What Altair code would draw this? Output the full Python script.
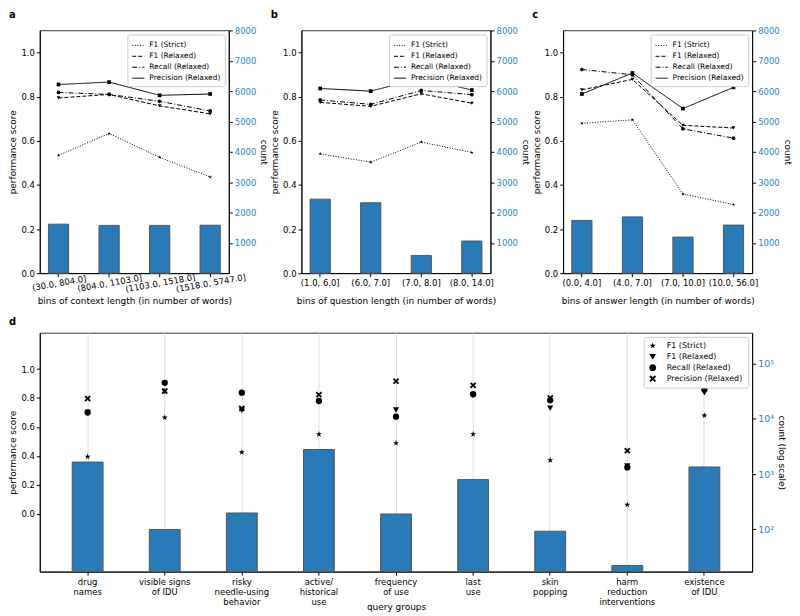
import altair as alt
import pandas as pd

METRICS = ["F1 (Strict)", "F1 (Relaxed)", "Recall (Relaxed)", "Precision (Relaxed)"]

# ---- panel a: context length bins
ctx_bins = ["(30.0, 804.0]", "(804.0, 1103.0]", "(1103.0, 1518.0]", "(1518.0, 5747.0]"]
ctx_count = [1615, 1575, 1575, 1580]
ctx_f1_strict = [0.534, 0.633, 0.525, 0.436]
ctx_f1_relaxed = [0.794, 0.810, 0.758, 0.722]
ctx_recall = [0.819, 0.810, 0.779, 0.735]
ctx_precision = [0.855, 0.866, 0.806, 0.812]

# ---- panel b: question length bins
q_bins = ["(1.0, 6.0]", "(6.0, 7.0]", "(7.0, 8.0]", "(8.0, 14.0]"]
q_count = [2440, 2320, 580, 1060]
q_f1_strict = [0.541, 0.503, 0.594, 0.547]
q_f1_relaxed = [0.774, 0.756, 0.813, 0.770]
q_recall = [0.785, 0.765, 0.828, 0.809]
q_precision = [0.837, 0.825, 0.884, 0.830]

# ---- panel c: answer length bins
ans_bins = ["(0.0, 4.0]", "(4.0, 7.0]", "(7.0, 10.0]", "(10.0, 56.0]"]
ans_count = [1740, 1855, 1190, 1585]
ans_f1_strict = [0.679, 0.695, 0.359, 0.311]
ans_f1_relaxed = [0.831, 0.878, 0.670, 0.658]
ans_recall = [0.923, 0.899, 0.654, 0.612]
ans_precision = [0.812, 0.907, 0.746, 0.842]

# ---- panel d: query groups
groups = ["drug\nnames", "visible signs\nof IDU", "risky\nneedle-using\nbehavior",
          "active/\nhistorical\nuse", "frequency\nof use", "last\nuse", "skin\npopping",
          "harm\nreduction\ninterventions", "existence\nof IDU"]
grp_count = [1650, 99, 197, 2790, 189, 794, 92, 22, 1345]
grp_f1_strict = [0.394, 0.665, 0.425, 0.550, 0.488, 0.550, 0.370, 0.062, 0.679]
grp_f1_relaxed = [0.700, 0.846, 0.715, 0.772, 0.717, 0.820, 0.730, 0.330, 0.837]
grp_recall = [0.700, 0.905, 0.837, 0.780, 0.671, 0.826, 0.785, 0.320, 0.860]
grp_precision = [0.796, 0.848, 0.728, 0.823, 0.916, 0.888, 0.800, 0.436, 0.893]

LOG_MIN, LOG_MAX = 17, 363000

BAR = "#2a7ab8"
EDGE = "#555555"
BLUE = "#1f86c8"
STAR = ("M0,-1L0.225,-0.309L0.951,-0.309L0.363,0.118L0.588,0.809L0,0.382"
        "L-0.588,0.809L-0.363,0.118L-0.951,-0.309L-0.225,-0.309Z")
XSHAPE = ("M-1,-0.6L-0.6,-1L0,-0.4L0.6,-1L1,-0.6L0.4,0L1,0.6L0.6,1L0,0.4"
          "L-0.6,1L-1,0.6L-0.4,0Z")
DASHES = [[1, 1.6], [4, 2], [5, 2, 1, 2], [1, 0]]
LINE_SHAPES = [STAR, "triangle-down", "circle", "square"]

W, H = 190, 244
WD, HD = 716, 240
GAP = 73


def long_df(cats, series, catname):
    rows = []
    for m, vals in zip(METRICS, series):
        for c, v in zip(cats, vals):
            rows.append({catname: c, "metric": m, "score": v})
    return pd.DataFrame(rows)


def top_panel(letter, bins, counts, series, xtitle, angle):
    bars_df = pd.DataFrame({"bin": bins, "count": counts})
    lines_df = long_df(bins, series, "bin")
    axis_kw = dict(title=xtitle, labelOverlap=False, labelFlush=False, labelBound=False)
    if angle:
        axis_kw.update(labelAngle=angle, labelAlign="center", labelBaseline="top")
    else:
        axis_kw.update(labelAngle=0, titlePadding=9)
    x = alt.X("bin:N", sort=bins,
              scale=alt.Scale(paddingInner=0.6, paddingOuter=0.17),
              axis=alt.Axis(**axis_kw))
    bars = alt.Chart(bars_df).mark_bar(color=BAR, stroke=EDGE, strokeWidth=1).encode(
        x=x,
        y=alt.Y("count:Q", scale=alt.Scale(domain=[0, 8000], nice=False),
                axis=alt.Axis(orient="right", values=list(range(1000, 8001, 1000)),
                              format="d", title="count", labelColor=BLUE, grid=False)),
    )
    yscore = alt.Y("score:Q", scale=alt.Scale(domain=[0, 1.1], nice=False, zero=False),
                   axis=alt.Axis(orient="left", values=[0, 0.2, 0.4, 0.6, 0.8, 1.0],
                                 format=".1f", title="performance score", grid=False))
    lines = alt.Chart(lines_df).mark_line(color="black", strokeWidth=1).encode(
        x=x, y=yscore,
        strokeDash=alt.StrokeDash(
            "metric:N", sort=METRICS,
            scale=alt.Scale(domain=METRICS, range=DASHES),
            legend=alt.Legend(title=None, orient="top-right", offset=4,
                              fillColor="white", strokeColor="#cccccc", padding=4,
                              cornerRadius=2, labelFontSize=7.5, labelColor="black",
                              symbolType="stroke", symbolSize=150, symbolStrokeWidth=1,
                              symbolStrokeColor="black", rowPadding=0)),
    )
    pts = [
        alt.Chart(lines_df).transform_filter(alt.datum.metric == m)
        .mark_point(filled=True, color="black", opacity=1, size=14, shape=sh)
        .encode(x=x, y=yscore)
        for m, sh in zip(METRICS, LINE_SHAPES)
    ]
    return alt.layer(bars, alt.layer(lines, *pts)).resolve_scale(y="independent").properties(
        width=W, height=H, title=alt.TitleParams(letter))


pa = top_panel("a", ctx_bins, ctx_count,
               [ctx_f1_strict, ctx_f1_relaxed, ctx_recall, ctx_precision],
               "bins of context length (in number of words)", 350)
pb = top_panel("b", q_bins, q_count,
               [q_f1_strict, q_f1_relaxed, q_recall, q_precision],
               "bins of question length (in number of words)", 0)
pc = top_panel("c", ans_bins, ans_count,
               [ans_f1_strict, ans_f1_relaxed, ans_recall, ans_precision],
               "bins of answer length (in number of words)", 0)

top = alt.hconcat(pa, pb, pc, spacing=GAP, bounds="flush").resolve_legend(
    strokeDash="independent", shape="independent"
).resolve_scale(strokeDash="independent", shape="independent")

# ---- panel d
d_bars = pd.DataFrame({"group": groups, "count": grp_count,
                       "base": [LOG_MIN] * len(groups)})
d_pts = long_df(groups, [grp_f1_strict, grp_f1_relaxed, grp_recall, grp_precision], "group")

x_d = alt.X("group:N", sort=groups,
            scale=alt.Scale(paddingInner=0.6, paddingOuter=0.42),
            axis=alt.Axis(title="query groups", labelAngle=0,
                          labelExpr="split(datum.label, '\\n')", labelLineHeight=10.5,
                          grid=True, gridColor="#dddddd", gridWidth=1, bandPosition=0.5,
                          titleY=31, labelOverlap=False, labelBound=False, labelFlush=False))

sup = {100: "10²", 1000: "10³", 10000: "10⁴", 100000: "10⁵"}
label_expr = " : ".join(f"datum.value == {k} ? '{v}'" for k, v in sup.items()) + " : ''"

bars_d = alt.Chart(d_bars).mark_bar(color=BAR, stroke=EDGE, strokeWidth=1).encode(
    x=x_d,
    y=alt.Y("count:Q", scale=alt.Scale(type="log", domain=[LOG_MIN, LOG_MAX], nice=False),
            axis=alt.Axis(orient="right", values=[100, 1000, 10000, 100000],
                          labelExpr=label_expr, title="count (log scale)",
                          labelColor=BLUE, grid=False, labelFontSize=9.5)),
    y2="base:Q",
)
pts_d = alt.Chart(d_pts).mark_point(filled=True, color="black", opacity=1, size=40).encode(
    x=x_d,
    y=alt.Y("score:Q", scale=alt.Scale(domain=[-0.40, 1.25], nice=False, zero=False),
            axis=alt.Axis(orient="left", values=[0, 0.2, 0.4, 0.6, 0.8, 1.0],
                          format=".1f", title="performance score", grid=False)),
    shape=alt.Shape("metric:N", sort=METRICS,
                    scale=alt.Scale(domain=METRICS,
                                    range=[STAR, "triangle-down", "circle", XSHAPE]),
                    legend=alt.Legend(title=None, orient="top-right", offset=4,
                                      fillColor="white", strokeColor="#cccccc", padding=5,
                                      cornerRadius=2, labelFontSize=8, labelColor="black",
                                      symbolSize=45, symbolFillColor="black",
                                      symbolStrokeColor="black", symbolStrokeWidth=0,
                                      rowPadding=3, labelOffset=10)),
)
pd_chart = alt.layer(bars_d, pts_d).resolve_scale(y="independent").properties(
    width=WD, height=HD, title=alt.TitleParams("d"))

chart = alt.vconcat(top, pd_chart, spacing=10).resolve_legend(
    strokeDash="independent", shape="independent"
).resolve_scale(
    strokeDash="independent", shape="independent"
).properties(padding=0).configure(
    font="DejaVu Sans"
).configure_axis(
    labelFontSize=8.5, titleFontSize=9, titleFontWeight="normal", labelColor="black",
    titleColor="black", tickColor="black", domainColor="black", tickSize=3.5,
    labelPadding=2, titlePadding=3
).configure_view(stroke="black", strokeWidth=0.8).configure_title(
    fontSize=10, fontWeight="bold", anchor="start", frame="bounds", offset=6
)

chart.save("out.html", embed_options={"renderer": "svg", "actions": False})
